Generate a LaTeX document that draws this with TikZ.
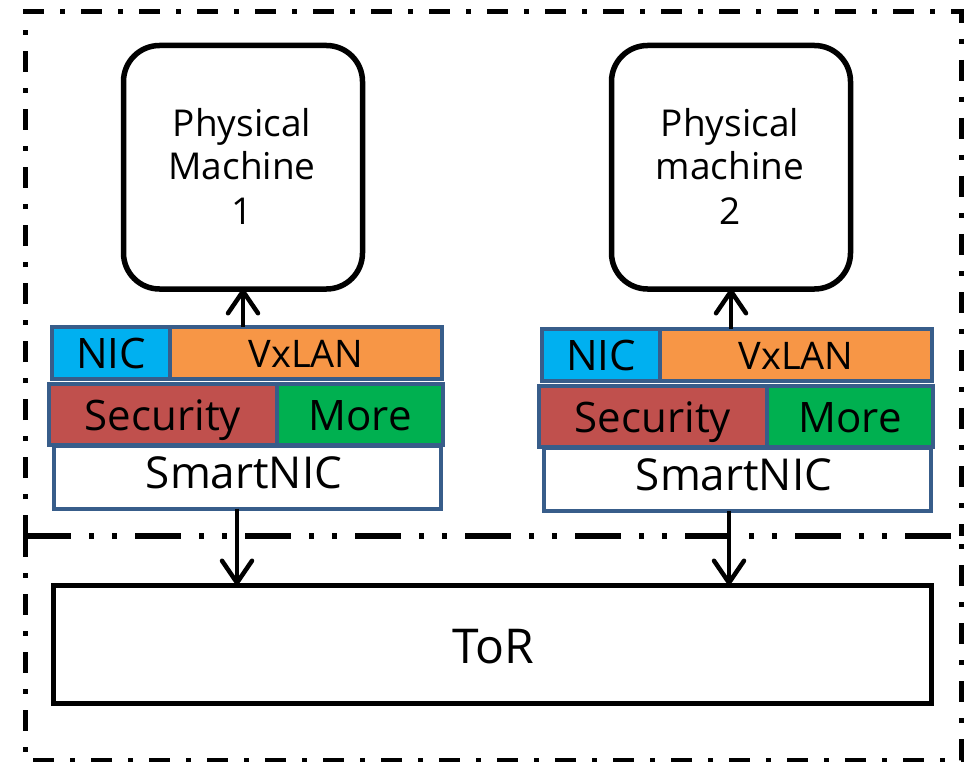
\documentclass[tikz,border=0pt]{standalone}
\usepackage{fontspec}
\setmainfont{Open Sans}
\usetikzlibrary{arrows.meta,calc}

\definecolor{nicblue}{HTML}{00B0F0}
\definecolor{vxorange}{HTML}{F79646}
\definecolor{secred}{HTML}{C0504D}
\definecolor{moregreen}{HTML}{00B050}
\definecolor{edgeblue}{HTML}{385D8A}

\newcommand\fsz[1]{\fontsize{#1}{#1}\selectfont}

% one SmartNIC stack: #1 = suffix, #2 = x offset, #3 = y offset
\newcommand\smartblock[3]{%
  \node[cell, fill=white, line width=4pt, minimum width=387pt, minimum height=62.5pt] (sn#1) at (54+#2,446+#3) {};
  \node[cell, fill=secred, minimum width=228pt, minimum height=61pt] (sec#1) at (49+#2,384+#3) {};
  \node[cell, fill=moregreen, minimum width=166pt, minimum height=61pt] (more#1) at (277+#2,384+#3) {};
  \node[cell, fill=nicblue, minimum width=118pt, minimum height=52pt] (nic#1) at (52+#2,327+#3) {};
  \node[cell, fill=vxorange, minimum width=272pt, minimum height=52pt] (vx#1) at (170+#2,327+#3) {};
  \node[lbl, font=\fsz{42}] (nic#1t) at (111+#2,368+#3) {NIC};
  \node[lbl, font=\fsz{38}] (vx#1t) at (306+#2,367+#3) {VxLAN};
  \node[lbl, font=\fsz{42}] (sec#1t) at (163+#2,430+#3) {Security};
  \node[lbl, font=\fsz{42}] (more#1t) at (360+#2,430+#3) {More};
  \node[lbl, font=\fsz{44}] (sn#1t) at (244+#2,488+#3) {SmartNIC};
}

\begin{document}
\begin{tikzpicture}[x=1pt,y=-1pt,
  cell/.style={draw=edgeblue, line width=4.5pt, anchor=north west, inner sep=0pt, outer sep=0pt},
  lbl/.style={anchor=base, inner sep=0pt, text=black},
  machine/.style={draw=black, line width=5.5pt, rounded corners=36pt, anchor=north west,
    minimum width=239pt, minimum height=243.5pt, inner sep=0pt, outer sep=0pt},
  torbox/.style={draw=black, line width=5pt, anchor=north west,
    minimum width=878pt, minimum height=118pt, inner sep=0pt, outer sep=0pt},
  arr/.style={line width=4.5pt, -{Straight Barb[length=22pt,width=30pt,round]}},
  frame/.style={line width=5pt, dash pattern=on 21pt off 16pt on 5pt off 16pt},
  frametop/.style={line width=5.5pt, dash pattern=on 46pt off 18pt on 5pt off 18pt on 5pt off 18pt}
]
\useasboundingbox (0,0) rectangle (977,762);

% rack frames
\draw[frame] (25,536) -- (25,12) -- (961,12) -- (961,536);
\draw[frame] (25,536) -- (25,760) -- (961,760) -- (961,536);
\draw[frametop] (25,536) -- (961,536);

% hosts
\node[machine] (pm1) at (123.5,45.5) {};
\node[machine] (pm2) at (611.5,45.5) {};
\node[lbl, font=\fsz{37}] (pm1a) at (242,137) {Physical};
\node[lbl, font=\fsz{37}] (pm1b) at (242,180) {Machine};
\node[lbl, font=\fsz{37}] (pm1c) at (242,225) {1};
\node[lbl, font=\fsz{37}] (pm2a) at (730,137) {Physical};
\node[lbl, font=\fsz{37}] (pm2b) at (730,180) {machine};
\node[lbl, font=\fsz{37}] (pm2c) at (730,225) {2};

% SmartNICs
\smartblock{1}{0}{0}
\smartblock{2}{490}{2}

% top-of-rack switch
\node[torbox] (tor) at (53,585) {};
\node[lbl, font=\fsz{48}] (tort) at (493,663) {ToR};

% links
\draw[arr] (vx1.north -| pm1.south) -- (pm1.south);
\draw[arr] (vx2.north -| pm2.south) -- (pm2.south);
\draw[arr] ([xshift=-10.5pt]sn1.south) -- ([xshift=-10.5pt]sn1.south |- tor.north);
\draw[arr] ([xshift=-8.5pt]sn2.south) -- ([xshift=-8.5pt]sn2.south |- tor.north);
\end{tikzpicture}
\end{document}
